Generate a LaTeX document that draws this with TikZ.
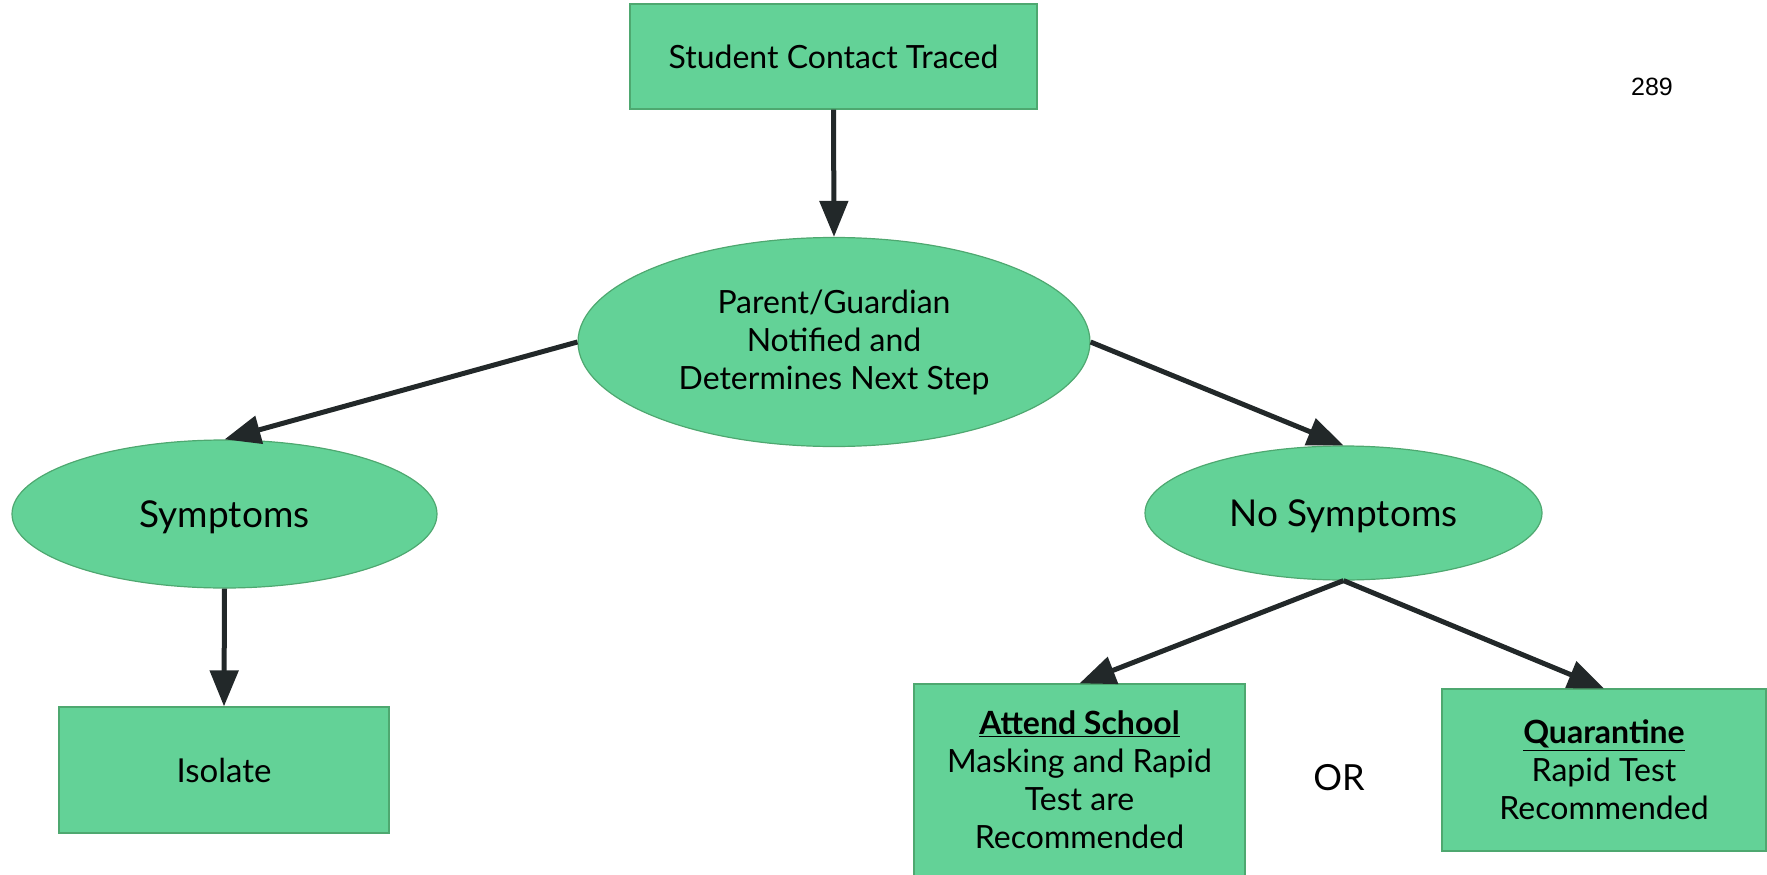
\documentclass[tikz,border=0pt]{standalone}
\usepackage{fontspec}
\setmainfont{Lato}
\newfontfamily\pagefont{Liberation Sans}
\usetikzlibrary{shapes.geometric,arrows.meta}
\definecolor{boxgreen}{RGB}{99,210,151}
\definecolor{edgegreen}{RGB}{78,168,112}
\definecolor{arrowgray}{RGB}{34,40,41}

\begin{document}
\begin{tikzpicture}[x=1pt, y=-1pt,
	    box/.style={rectangle, fill=boxgreen, draw=edgegreen, line width=1.2pt, align=center, inner sep=0pt, font=\fontsize{32}{38}\selectfont},
	    oval/.style={ellipse, fill=boxgreen, draw=edgegreen, line width=1.2pt, align=center, inner sep=0pt, font=\fontsize{32}{38}\selectfont},
	    link/.style={draw=arrowgray, line width=5pt, -{Triangle[width=28pt,length=36pt]}}]
	    \useasboundingbox (0,0) rectangle (1767,875);
	    \node[box, minimum width=407pt, minimum height=105pt] (traced) at (833.5,56.5) {Student Contact Traced};
	    \node[oval, minimum width=512pt, minimum height=209pt] (notified) at (834,342) {Parent/Guardian\\Notified and\\Determines Next Step};
	    \node[oval, minimum width=425pt, minimum height=148pt, text depth=0pt, font=\fontsize{37}{42}\selectfont] (sympt) at (224.5,514) {Symptoms};
	    \node[oval, minimum width=397pt, minimum height=134pt, text depth=0pt, font=\fontsize{37}{42}\selectfont] (nosympt) at (1343.5,513) {No Symptoms};
	    \node[box, minimum width=330pt, minimum height=126pt, font=\fontsize{33}{38}\selectfont] (isolate) at (224,770) {Isolate};
	    \node[box, minimum width=331pt, minimum height=192pt] (attend) at (1079.5,780) {\underline{\textbf{Attend School}}\\Masking and Rapid\\Test are\\Recommended};
	    \node[box, minimum width=324pt, minimum height=162pt] (quar) at (1604,770) {\underline{\textbf{Quarantine}}\\Rapid Test\\Recommended};
	    \node[font=\fontsize{36}{42}\selectfont] (or) at (1339,778) {OR};
	    \node[font=\pagefont\fontsize{25}{30}\selectfont] (page) at (1652,87) {289};
	    \draw[link] (traced.south) -- (notified.north);
	    \draw[link] (notified.west) -- (sympt.north);
	    \draw[link] (notified.east) -- (nosympt.north);
	    \draw[link] (sympt.south) -- (isolate.north);
	    \draw[link] (nosympt.south) -- (attend.north);
	    \draw[link] (nosympt.south) -- (quar.north);
	  \end{tikzpicture}
\end{document}
